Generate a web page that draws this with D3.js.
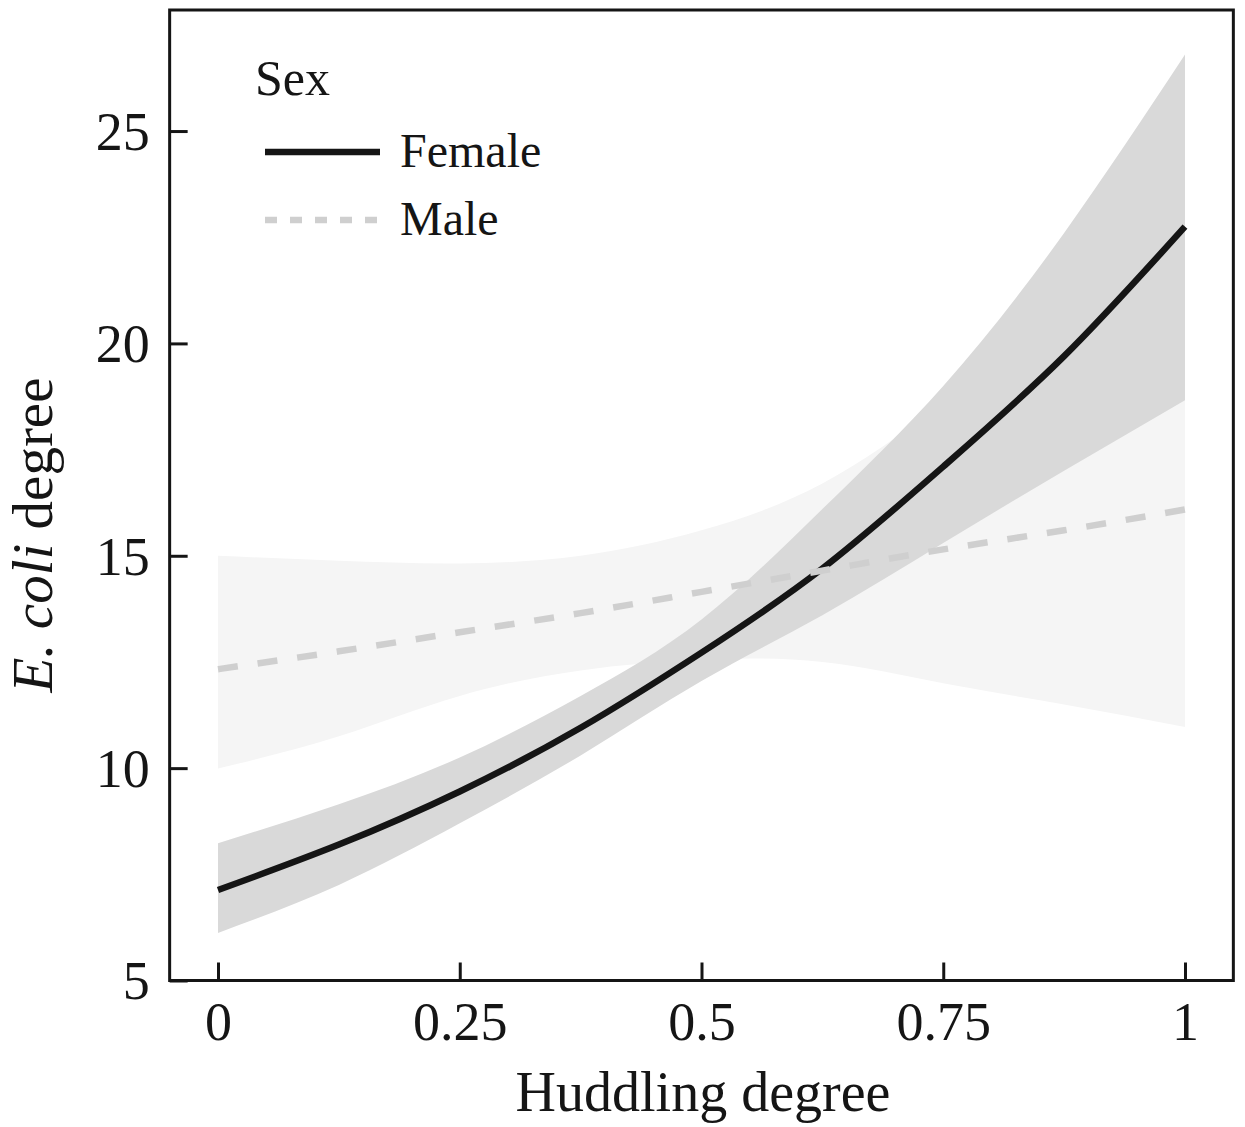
<!DOCTYPE html>
<html><head><meta charset="utf-8">
<script src="https://cdn.jsdelivr.net/npm/d3@7"></script>
<style>body{margin:0;background:#fff}svg{display:block}</style>
</head><body>
<svg id="c" width="1245" height="1127"></svg>
<script>
const xs = [0, 0.125, 0.25, 0.375, 0.5, 0.625, 0.75, 0.875, 1];
const femaleFit   = [7.13, 8.2, 9.45, 10.95, 12.72, 14.7, 17.1, 19.7, 22.75];
const femaleUpper = [8.23, 9.15, 10.25, 11.7, 13.5, 16.1, 19.0, 22.6, 26.8];
const femaleLower = [6.12, 7.25, 8.7, 10.3, 12.05, 13.6, 15.3, 17.0, 18.66];
const maleFit     = [12.33, 12.75, 13.2, 13.65, 14.15, 14.65, 15.15, 15.6, 16.09];
const maleUpper   = [15.0, 14.88, 14.82, 15.0, 15.6, 16.7, 18.6, 20.9, 23.6];
const maleLower   = [9.99, 10.75, 11.7, 12.3, 12.55, 12.5, 12.0, 11.5, 10.97];
const xTicks = [0, 0.25, 0.5, 0.75, 1];
const xTickLabels = ["0", "0.25", "0.5", "0.75", "1"];
const yTicks = [5, 10, 15, 20, 25];
const legendTitle = "Sex";
const seriesNames = ["Female", "Male"];

const svg = d3.select("#c");
const font = "'Liberation Serif', 'DejaVu Serif', serif";
const x = d3.scaleLinear().domain([-0.05, 1.05]).range([169.65, 1233.35]);
const y = d3.scaleLinear().domain([5, 27.85]).range([980.5, 10]);

const rows = xs.map((v, i) => ({x: v, fF: femaleFit[i], fU: femaleUpper[i], fL: femaleLower[i],
  mF: maleFit[i], mU: maleUpper[i], mL: maleLower[i]}));
const curve = d3.curveNatural;

// bands
svg.append("path").datum(rows).attr("fill", "#f5f5f5")
  .attr("d", d3.area().curve(curve).x(d => x(d.x)).y0(d => y(d.mL)).y1(d => y(d.mU)));
svg.append("path").datum(rows).attr("fill", "#d9d9d9")
  .attr("d", d3.area().curve(curve).x(d => x(d.x)).y0(d => y(d.fL)).y1(d => y(d.fU)));

// lines
svg.append("path").datum(rows).attr("fill", "none").attr("stroke", "#151515").attr("stroke-width", 6.5)
  .attr("d", d3.line().curve(curve).x(d => x(d.x)).y(d => y(d.fF)));
svg.append("path").datum(rows).attr("fill", "none").attr("stroke", "#cfcfcf").attr("stroke-width", 6.5)
  .attr("stroke-dasharray", "20,20")
  .attr("d", d3.line().curve(curve).x(d => x(d.x)).y(d => y(d.mF)));

// frame
const [x0, x1] = x.range(), [yb, yt] = y.range();
svg.append("rect").attr("x", x0).attr("y", yt).attr("width", x1 - x0).attr("height", yb - yt)
  .attr("fill", "none").attr("stroke", "#151515").attr("stroke-width", 3);

// axes
const xAxis = svg.append("g").attr("transform", `translate(0,${yb})`)
  .call(d3.axisBottom(x).tickValues(xTicks).tickFormat((d, i) => xTickLabels[i]).tickSizeInner(-18).tickSizeOuter(0).tickPadding(21));
const yAxis = svg.append("g").attr("transform", `translate(${x0},0)`)
  .call(d3.axisLeft(y).tickValues(yTicks).tickSizeInner(-18).tickSizeOuter(0).tickPadding(20));
[xAxis, yAxis].forEach(g => {
  g.select(".domain").remove();
  g.selectAll(".tick line").attr("stroke", "#151515").attr("stroke-width", 3);
  g.selectAll(".tick text").attr("fill", "#151515").style("font-family", font).style("font-size", "54px");
});
yAxis.selectAll(".tick text").attr("dy", "0.34em");

// axis titles
svg.append("text").attr("x", 703).attr("y", 1111).attr("text-anchor", "middle")
  .style("font-family", font).style("font-size", "56px").attr("fill", "#151515").text("Huddling degree");
const yl = svg.append("text").attr("transform", "translate(52,535) rotate(-90)").attr("text-anchor", "middle")
  .style("font-family", font).style("font-size", "57px").attr("fill", "#151515");
yl.append("tspan").style("font-style", "italic").text("E. coli");
yl.append("tspan").text(" degree");

// legend
svg.append("text").attr("x", 255).attr("y", 95).style("font-family", font).style("font-size", "50px")
  .attr("fill", "#151515").text(legendTitle);
const leg = [{name: seriesNames[0], y: 152, stroke: "#151515", dash: null},
             {name: seriesNames[1], y: 220, stroke: "#cfcfcf", dash: "12,13"}];
leg.forEach(l => {
  svg.append("line").attr("x1", 265).attr("x2", 380).attr("y1", l.y).attr("y2", l.y)
    .attr("stroke", l.stroke).attr("stroke-width", 6.5).attr("stroke-dasharray", l.dash);
  svg.append("text").attr("x", 400).attr("y", l.y + 15).style("font-family", font).style("font-size", "48px")
    .attr("fill", "#151515").text(l.name);
});
</script>
</body></html>
